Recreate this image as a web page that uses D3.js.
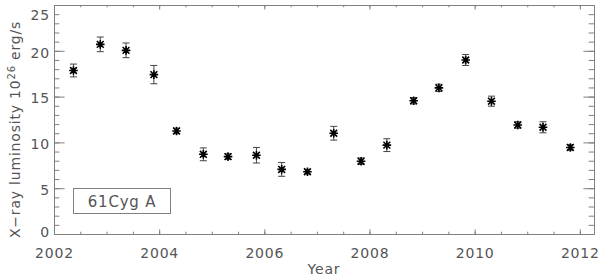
<!DOCTYPE html>
<html>
<head>
<meta charset="utf-8">
<script src="https://cdn.jsdelivr.net/npm/d3@7"></script>
<style>
  html, body { margin: 0; padding: 0; background: #fff; }
  svg { display: block; }
  text { font-family: "DejaVu Sans", sans-serif; fill: #555; }
</style>
</head>
<body>
<svg id="chart" width="600" height="278"></svg>
<script>
// ---- data ----
const years  = [2002.37, 2002.88, 2003.37, 2003.90, 2004.33, 2004.84, 2005.31, 2005.85, 2006.33, 2006.82,
                2007.32, 2007.84, 2008.33, 2008.84, 2009.32, 2009.83, 2010.32, 2010.82, 2011.30, 2011.82];
const values = [17.85, 20.7, 20.05, 17.4, 11.25, 8.7, 8.45, 8.6, 7.05, 6.8,
                11.0, 7.95, 9.7, 14.55, 15.95, 19.0, 14.5, 11.9, 11.65, 9.45];
const errors = [0.7, 0.8, 0.8, 1.0, 0.3, 0.7, 0.3, 0.85, 0.75, 0.25,
                0.75, 0.35, 0.7, 0.35, 0.4, 0.6, 0.55, 0.35, 0.6, 0.3];
const xMajorTicks = [2002, 2004, 2006, 2008, 2010, 2012];
const xMinorTicks = d3.range(2002, 2012.01, 0.5);
const yMajorTicks = [0, 5, 10, 15, 20, 25];
const yMinorTicks = d3.range(0, 25.01, 1);
const legendLabel = "61Cyg A";

// ---- layout ----
const L = 54, R = 594, T = 5, B = 234;
const svg = d3.select("#chart");
const x = d3.scaleLinear().domain([2002, 2012.27]).range([L, R]);
const y = d3.scaleLinear().domain([0, 25]).range([B, T]);
const axisColor = "#808080";
const xTickLen = 4.6, yTickLen = 10.6;

function styleAxis(g) {
  g.selectAll("path.domain").attr("stroke", axisColor).attr("stroke-width", 1);
  g.selectAll(".tick line").attr("stroke", axisColor).attr("stroke-width", 1);
  g.selectAll(".tick text").attr("fill", "#555").style("font-size", "14px").style("letter-spacing", "0.8px");
}

// bottom
svg.append("g").attr("transform", `translate(0,${B})`)
  .call(d3.axisBottom(x).tickValues(xMinorTicks).tickSize(-xTickLen / 2).tickSizeOuter(0).tickFormat(""))
  .call(styleAxis);
svg.append("g").attr("transform", `translate(0,${B})`)
  .call(d3.axisBottom(x).tickValues(xMajorTicks).tickSize(-xTickLen).tickSizeOuter(0).tickPadding(14).tickFormat(d3.format("d")))
  .call(styleAxis);
// top
svg.append("g").attr("transform", `translate(0,${T})`)
  .call(d3.axisTop(x).tickValues(xMinorTicks).tickSize(-xTickLen / 2).tickSizeOuter(0).tickFormat(""))
  .call(styleAxis);
svg.append("g").attr("transform", `translate(0,${T})`)
  .call(d3.axisTop(x).tickValues(xMajorTicks).tickSize(-xTickLen).tickSizeOuter(0).tickFormat(""))
  .call(styleAxis);
// left
svg.append("g").attr("transform", `translate(${L},0)`)
  .call(d3.axisLeft(y).tickValues(yMinorTicks).tickSize(-yTickLen / 2).tickSizeOuter(0).tickFormat(""))
  .call(styleAxis);
const yAxisG = svg.append("g").attr("transform", `translate(${L},0)`)
  .call(d3.axisLeft(y).tickValues(yMajorTicks).tickSize(-yTickLen).tickSizeOuter(0).tickPadding(4).tickFormat(d3.format("d")))
  .call(styleAxis);
// keep end labels inside the picture, as in the reference
yAxisG.selectAll(".tick text").attr("dy", d => d === 25 ? "1.05em" : d === 0 ? "0.15em" : "0.45em");
// right
svg.append("g").attr("transform", `translate(${R},0)`)
  .call(d3.axisRight(y).tickValues(yMinorTicks).tickSize(-yTickLen / 2).tickSizeOuter(0).tickFormat(""))
  .call(styleAxis);
svg.append("g").attr("transform", `translate(${R},0)`)
  .call(d3.axisRight(y).tickValues(yMajorTicks).tickSize(-yTickLen).tickSizeOuter(0).tickFormat(""))
  .call(styleAxis);

// axis titles
svg.append("text")
  .attr("x", (L + R) / 2).attr("y", 274)
  .attr("text-anchor", "middle")
  .style("font-size", "14px").style("letter-spacing", "0.8px")
  .text("Year");

const yt = svg.append("text")
  .attr("transform", `translate(20,${(T + B) / 2 + 10}) rotate(-90)`)
  .attr("text-anchor", "middle")
  .style("font-size", "14px").style("letter-spacing", "0.8px");
yt.append("tspan").text("X\u2212ray luminosity 10");
yt.append("tspan").attr("dy", -5).style("font-size", "10px").text("26");
yt.append("tspan").attr("dy", 5).text(" erg/s");

// data
const data = years.map((yr, i) => ({ yr, v: values[i], e: errors[i] }));
const ebColor = "#444";
const cap = 3.5;
const eb = svg.append("g").attr("stroke", ebColor).attr("stroke-width", 1);
data.forEach(d => {
  const cx = x(d.yr), y0 = y(d.v - d.e), y1 = y(d.v + d.e);
  eb.append("line").attr("x1", cx).attr("x2", cx).attr("y1", y0).attr("y2", y1);
  eb.append("line").attr("x1", cx - cap).attr("x2", cx + cap).attr("y1", y0).attr("y2", y0);
  eb.append("line").attr("x1", cx - cap).attr("x2", cx + cap).attr("y1", y1).attr("y2", y1);
});

const s = 4.3, sd = 3.4;
const asterisk = `M0,${-s}L0,${s}M${-s},0L${s},0M${-sd},${-sd}L${sd},${sd}M${-sd},${sd}L${sd},${-sd}`;
svg.append("g").selectAll("path").data(data).join("path")
  .attr("transform", d => `translate(${x(d.yr)},${y(d.v)})`)
  .attr("d", asterisk)
  .attr("stroke", "#000").attr("stroke-width", 1.6).attr("fill", "none");

// legend box
const lg = svg.append("g");
lg.append("rect").attr("x", 73.5).attr("y", 188.5).attr("width", 97).attr("height", 25)
  .attr("fill", "none").attr("stroke", axisColor).attr("stroke-width", 1);
lg.append("text").attr("x", 122).attr("y", 206.5).attr("text-anchor", "middle")
  .style("font-size", "15px").style("letter-spacing", "0.8px").text(legendLabel);
</script>
</body>
</html>
